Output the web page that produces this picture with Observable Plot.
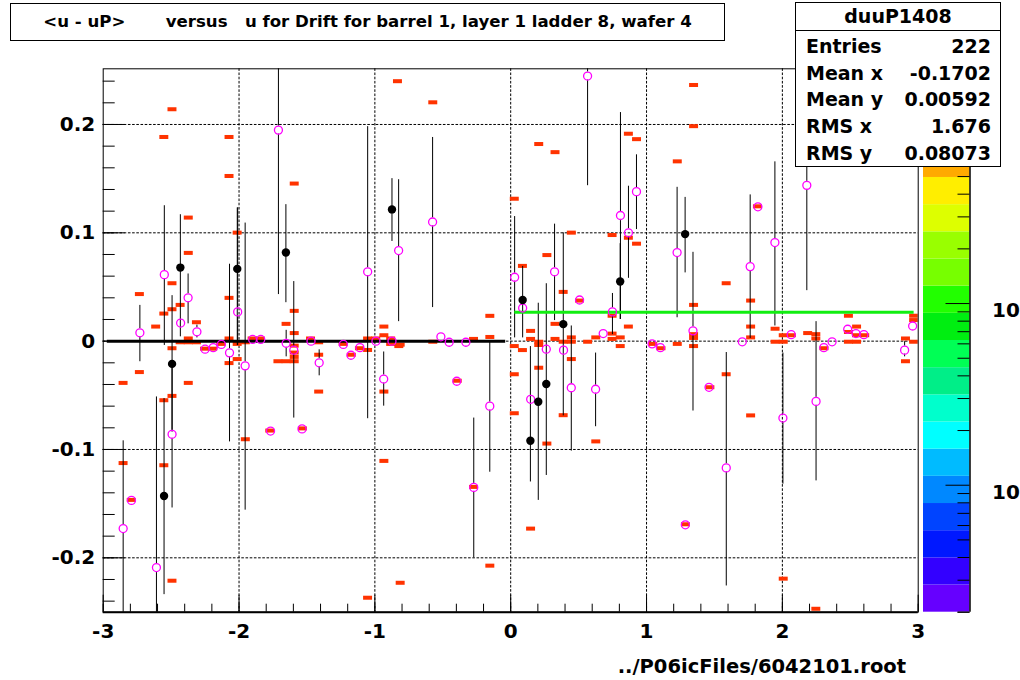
<!DOCTYPE html>
<html>
<head>
<meta charset="utf-8">
<script src="https://cdn.jsdelivr.net/npm/d3@7"></script>
<script src="https://cdn.jsdelivr.net/npm/@observablehq/plot@0.6"></script>
<style>
  html, body { margin: 0; padding: 0; background: #fff; overflow: hidden; }
  #wrap { position: relative; width: 1020px; height: 680px; overflow: hidden; font-family: "DejaVu Sans", sans-serif; font-weight: bold; }
  #main { position: absolute; left: 0; top: 0; width: 1020px; height: 680px; }
  #pal { position: absolute; left: 923px; top: 0; width: 100px; height: 680px; }
  #main svg, #pal svg { max-width: none !important; }
  #title { position: absolute; left: 10px; top: 3px; width: 713px; height: 36px; border: 1px solid #000; background: #fff;
           font-size: 16.6px; line-height: 36px; text-align: center; white-space: pre; }
  #stats { position: absolute; left: 795px; top: 2px; width: 204px; height: 163px; border: 1px solid #000; background: #fff; font-size: 19px; }
  #stats .hd { height: 27px; line-height: 27px; text-align: center; border-bottom: 1px solid #000; }
  #stats .rows { padding-top: 2px; }
  #stats .row { display: flex; justify-content: space-between; height: 26.7px; line-height: 26.7px; padding: 0 9px 0 10px; }
  #footer { position: absolute; right: 114px; top: 655px; font-size: 19.5px; line-height: 24px; white-space: pre; }
</style>
</head>
<body>
<div id="wrap">
  <div id="main"></div>
  <div id="pal"></div>
  <div id="title"></div>
  <div id="stats"></div>
  <div id="footer"></div>
</div>
<script>
// ---------- texts ----------
const titleText = "<u - uP>       versus   u for Drift for barrel 1, layer 1 ladder 8, wafer 4";
const footerText = "../P06icFiles/6042101.root";
const statsName = "duuP1408";
const statsLabels = ["Entries", "Mean x", "Mean y", "RMS x", "RMS y"];
const statsValues = ["222", "-0.1702", "0.00592", "1.676", "0.08073"];

// ---------- axes ----------
const xTicks = [-3, -2, -1, 0, 1, 2, 3];
const xTickLabels = ["-3", "-2", "-1", "0", "1", "2", "3"];
const yTicks = [-0.2, -0.1, 0, 0.1, 0.2];
const yTickLabels = ["-0.2", "-0.1", "0", "0.1", "0.2"];
const xGrid = [-2, -1, 0, 1, 2];
const yGrid = [-0.2, -0.1, 0, 0.1, 0.2];
const xDomain = [-3, 3];
const yDomain = [-0.2502, 0.2514];

// ---------- 2D histogram cells [u, u-uP] ----------
const cells = [
[-2.49,0.2136],[-2.55,0.188],[-2.07,0.188],[-2.07,0.152],[-1.59,0.145],[-0.83,0.2395],
[-2.37,0.1136],[-2.37,0.081],[-2.01,0.0997],[-2.49,0.053],[-2.73,0.043],[-2.43,0.033],
[-2.49,0.029],[-2.55,0.025],[-2.61,0.013],[-2.07,0.0395],[-2.31,0.017],[-1.65,0.0155],
[-1.59,0.0275],[-1.59,0.007],[-0.93,0.013],[-0.93,0.005],
[-2.37,0.002],[-2.07,0.002],[-1.90,0.002],[-1.84,0.002],[-1.47,0.002],[-1.05,0.002],[-0.99,0.002],[-0.88,0.002],
[-2.37,-0.0015],[-2.43,-0.0015],[-2.49,-0.007],[-2.31,-0.0015],[-2.25,-0.0074],[-2.19,-0.0074],[-2.13,-0.003],[-2.01,-0.003],[-1.95,-0.0015],
[-2.07,-0.0207],[-2.01,-0.017],[-2.73,-0.029],[-2.85,-0.039],[-2.37,-0.039],[-2.55,-0.055],[-2.49,-0.051],[-1.95,-0.091],[-2.85,-0.113],[-2.55,-0.115],[-2.79,-0.147],[-2.49,-0.2216],
[-1.77,-0.083],[-1.53,-0.081],[-1.71,-0.019],[-1.65,-0.019],[-1.59,-0.019],[-1.05,-0.2373],[-0.93,-0.047],[-0.93,-0.111],[-1.05,-0.0086],[-0.88,-0.003],[-0.82,-0.005],
[-1.23,-0.003],[-1.17,-0.013],[-1.11,-0.007],[-1.41,-0.013],[-1.41,-0.047],[-1.41,-0.0015],[-1.59,-0.0046],[-1.59,-0.011],[-1.59,-0.015],
[-0.57,0.220],[0.21,0.1815],[0.33,0.174],[0.03,0.131],[0.87,0.191],[0.93,0.186],[0.45,0.0997],[0.75,0.0975],[0.87,0.095],[0.93,0.0895],[0.27,0.079],[0.09,0.069],[0.39,0.045],[0.51,0.037],[-0.15,0.0229],[-0.15,0.0034],[0.75,0.023],[0.87,0.013],[0.33,0.0155],[0.15,0.009],[0.75,0.0065],[0.45,0.003],[0.63,0.003],[0.81,0.003],[0.15,0.0016],[0.33,0.0016],
[-0.81,-0.0037],[-0.57,-0.001],[-0.27,0.0016],[-0.39,-0.037],[-0.27,-0.135],[-0.15,-0.2077],[-0.81,-0.2235],[0.03,-0.005],[0.03,-0.031],[0.03,-0.067],[0.09,-0.0087],[0.21,-0.001],[0.21,-0.004],[0.21,-0.025],[0.15,-0.1735],[0.27,-0.095],[0.39,-0.001],[0.39,-0.0688],[0.45,-0.001],[0.45,-0.017],[0.57,-0.001],[0.63,-0.093],[0.75,0.0016],[0.81,-0.005],
[1.35,0.236],[1.35,0.198],[1.23,0.1655],[1.59,0.053],[1.35,0.033],[1.77,0.037],[1.82,0.124],[1.77,0.013],[1.77,0.003],[1.95,0.011],[2.49,0.023],[2.55,0.013],[2.97,0.023],[2.97,0.019],[1.35,0.006],[1.35,0.0025],[2.01,0.005],[2.07,0.005],[2.19,0.007],[2.25,0.006],[2.25,0.002],[2.61,0.005],[2.91,0.002],
[1.05,-0.003],[1.11,-0.007],[1.23,-0.003],[1.35,-0.005],[1.59,-0.031],[1.47,-0.043],[1.77,-0.069],[1.95,-0.001],[2.01,-0.001],[2.31,-0.007],[2.49,0.008],[2.49,-0.001],[2.55,-0.001],[2.55,0.005],[2.97,-0.001],[2.91,-0.019],[1.29,-0.1695],[2.01,-0.2197],[2.25,-0.2475]
];
const binW = 0.066, binH = 0.0037;

// ---------- profile points [u, mean, low, high] ----------
const pinkProfile = [
[-2.853,-0.173,-0.26,-0.092],[-2.792,-0.147],[-2.73,0.0077,-0.019,0.033],[-2.608,-0.209,-0.26,-0.0515],
[-2.55,0.0614,-0.004,0.125],[-2.493,-0.086,-0.154,-0.02],[-2.43,0.0167],[-2.375,0.040,0.016,0.062],
[-2.31,0.0086,0.003,0.0148],[-2.25,-0.0074],[-2.19,-0.006],[-2.13,-0.003],[-2.07,-0.0108,-0.093,0.071],
[-2.01,0.027,-0.004,0.123],[-1.955,-0.0228,-0.156,0.109],[-1.90,0.0016],[-1.84,0.0016],[-1.768,-0.083],
[-1.71,0.1948,0.043,0.26],[-1.653,-0.002,-0.0145,0.010],[-1.597,-0.0083,-0.071,0.055],[-1.536,-0.081],
[-1.47,0.0],[-1.41,-0.020,-0.032,-0.008],[-1.232,-0.003],[-1.176,-0.013],[-1.11,-0.006],
[-1.053,0.064,-0.0716,0.198],[-0.992,0.0],[-0.935,-0.035,-0.060,-0.010],[-0.874,0.0],
[-0.825,0.0836,0.018,0.149],[-0.575,0.110,0.031,0.188],[-0.514,0.004],[-0.453,-0.001],[-0.397,-0.037],
[-0.33,-0.001],[-0.272,-0.135,-0.200,-0.071],[-0.154,-0.060,-0.121,-0.001],[0.029,0.059,0.003,0.115],
[0.088,0.0306],[0.147,-0.0537],[0.262,-0.0074],[0.323,0.064,0.019,0.108],[0.389,-0.0083],
[0.446,-0.043,-0.1015,0.014],[0.507,0.038],[0.566,0.2447,0.1435,0.26],[0.625,-0.0444,-0.079,-0.011],
[0.681,0.007],[0.749,0.027,0.006,0.044],[0.808,0.116,0.020,0.211],[0.867,0.100,0.058,0.143],
[0.926,0.138,0.103,0.172],[1.041,-0.0025],[1.102,-0.006],[1.225,0.0818,0.0216,0.142],[1.286,-0.1695],
[1.342,0.0095,-0.0645,0.082],[1.46,-0.0426],[1.587,-0.117,-0.226,-0.0105],[1.705,-0.0006],
[1.763,0.0688,0.0025,0.135],[1.82,0.124],[1.945,0.091,0.014,0.1655],[2.004,-0.071,-0.132,-0.011],
[2.065,0.006],[2.18,0.1438,0.0466,0.18],[2.248,-0.0556,-0.129,0.018],[2.305,-0.006],[2.366,-0.0006],
[2.481,0.011],[2.542,0.007],[2.60,0.006],[2.90,-0.0083,-0.0145,-0.0005],[2.959,0.014]
];
const blackProfile = [
[-2.552,-0.143,-0.234,-0.053],[-2.493,-0.021,-0.084,0.042],[-2.432,0.0679,0.004,0.1167],
[-2.013,0.0667,-0.004,0.123],[-1.655,0.0818,0.0355,0.126],[-0.874,0.1216,0.092,0.15],
[0.088,0.038,0.003,0.069],[0.145,-0.092,-0.130,-0.005],[0.203,-0.056,-0.147,0.035],
[0.262,-0.0395,-0.124,0.053],[0.387,0.0157,-0.069,0.1],[0.806,0.055,0.020,0.09],[1.284,0.0988,0.063,0.1327]
];

// ---------- fit lines ----------
const fitLines = [
  {x1: -2.97, x2: -0.037, y: 0, color: "#000000"},
  {x1: 0.03, x2: 2.97, y: 0.0266, color: "#11ee11"}
];

// ---------- colour palette (bottom -> top) ----------
const paletteColors = ["#6600ff","#3300ff","#0018ff","#0044ff","#0088ff","#00bbff","#00ffff","#00ffcc","#00ee88","#00ff55",
                       "#00ee11","#22ff00","#77ff00","#99ff00","#ddff00","#ffee00","#ffaa00","#ff6600","#ff3300","#ff0000"];
const zDomain = [0.02, 19.6];
const zMajor = [0.1, 1, 10];
const zMinor = [0.02,0.03,0.04,0.05,0.06,0.07,0.08,0.09,0.2,0.3,0.4,0.5,0.6,0.7,0.8,0.9,2,3,4,5,6,7,8,9];
const zLabels = [{v: 0.1, t: "10\u207B\u00B9"}, {v: 1, t: "10\u2070"}];

// ---------- layout ----------
const W = 1020, H = 680;
const mL = 102.7, mR = 102.3, mT = 68.3, mB = 68.3;
const frameW = W - mL - mR, frameH = H - mT - mB;

const lo = d => d.length > 2 ? d[2] : d[1];
const hi = d => d.length > 3 ? d[3] : d[1];
const upper = arr => arr.filter(d => hi(d) - d[1] > 0.004);
const lower = arr => arr.filter(d => d[1] - lo(d) > 0.004);

const main = Plot.plot({
  width: W, height: H,
  marginLeft: mL, marginRight: mR, marginTop: mT, marginBottom: mB,
  x: {domain: xDomain, label: null},
  y: {domain: yDomain, label: null},
  style: {fontFamily: "DejaVu Sans", fontWeight: "bold", background: "transparent", overflow: "visible", maxWidth: "none"},
  marks: [
    Plot.ruleX(xGrid, {stroke: "#000", strokeWidth: 1, strokeDasharray: "2.6,1.6"}),
    Plot.ruleY(yGrid, {stroke: "#000", strokeWidth: 1, strokeDasharray: "2.6,1.6"}),
    Plot.rect(cells, {x1: d => d[0] - binW / 2, x2: d => d[0] + binW / 2, y1: d => d[1] - binH / 2, y2: d => d[1] + binH / 2, fill: "#ff3300", clip: true}),
    // error bars
    Plot.ruleX(upper(pinkProfile), {x: d => d[0], y1: hi, y2: d => d[1], insetBottom: 4, stroke: "#000", strokeWidth: 1, clip: true}),
    Plot.ruleX(lower(pinkProfile), {x: d => d[0], y1: d => d[1], y2: lo, insetTop: 4, stroke: "#000", strokeWidth: 1, clip: true}),
    Plot.ruleX(blackProfile, {x: d => d[0], y1: hi, y2: lo, stroke: "#000", strokeWidth: 1, clip: true}),
    // fit lines
    Plot.ruleY(fitLines, {x1: "x1", x2: "x2", y: "y", stroke: "color", strokeWidth: 3}),
    // markers
    Plot.dot(pinkProfile, {x: d => d[0], y: d => d[1], r: 4, stroke: "#ff00ff", strokeWidth: 1.3, fill: "none", clip: true}),
    Plot.dot(blackProfile, {x: d => d[0], y: d => d[1], r: 4.2, fill: "#000", stroke: "none", clip: true}),
    // frame and inward ticks
    Plot.frame({stroke: "#000", strokeWidth: 1}),
    Plot.ruleY([yDomain[0]], {stroke: "#000", strokeWidth: 2}),
    Plot.ruleX(d3.range(-3, 3.0001, 0.2), {insetTop: frameH - 8, stroke: "#000", strokeWidth: 1}),
    Plot.ruleX(xTicks, {insetTop: frameH - 17, stroke: "#000", strokeWidth: 1}),
    Plot.ruleY(d3.range(-0.24, 0.2501, 0.02), {insetRight: frameW - 12, stroke: "#000", strokeWidth: 1}),
    Plot.ruleY(yTicks, {insetRight: frameW - 22, stroke: "#000", strokeWidth: 1}),
    Plot.axisX(xTicks, {tickSize: 0, tickPadding: 12, fontSize: 20, label: null,
                        tickFormat: d => xTickLabels[xTicks.indexOf(d)]}),
    Plot.axisY(yTicks, {tickSize: 0, tickPadding: 8, fontSize: 20, label: null,
                        tickFormat: d => yTickLabels[yTicks.indexOf(d)]})
  ]
});
document.getElementById("main").appendChild(main);

// palette
const palW = 46.5, palSvgW = 100;
const nBands = paletteColors.length;
const lz0 = Math.log10(zDomain[0]), lz1 = Math.log10(zDomain[1]);
const bands = paletteColors.map((c, i) => ({
  lo: Math.pow(10, lz0 + (lz1 - lz0) * i / nBands),
  hi: Math.pow(10, lz0 + (lz1 - lz0) * (i + 1) / nBands),
  color: c
}));
const pal = Plot.plot({
  width: palSvgW, height: H,
  marginLeft: 0, marginRight: palSvgW - palW, marginTop: mT, marginBottom: mB,
  x: {domain: [0, 1], axis: null},
  y: {type: "log", domain: zDomain, axis: null},
  style: {fontFamily: "DejaVu Sans", fontWeight: "bold", background: "transparent", overflow: "visible", maxWidth: "none"},
  marks: [
    Plot.rect(bands, {x1: 0, x2: 1, y1: "lo", y2: "hi", fill: "color"}),
    Plot.ruleX([1], {stroke: "#000", strokeWidth: 1.5}),
    Plot.ruleY(zMinor, {insetLeft: palW - 12, stroke: "#000", strokeWidth: 1}),
    Plot.ruleY(zMajor.filter(v => v <= zDomain[1]), {insetLeft: palW - 24, stroke: "#000", strokeWidth: 1}),
    Plot.ruleY([zDomain[0]], {insetLeft: palW - 12, stroke: "#000", strokeWidth: 1}),
    Plot.text(zLabels, {x: () => 1, y: "v", text: "t", textAnchor: "start", dx: 22, dy: 7, fontSize: 20, fill: "#000"})
  ]
});
document.getElementById("pal").appendChild(pal);

// HTML overlays
document.getElementById("title").textContent = titleText;
document.getElementById("footer").textContent = footerText;
const st = document.getElementById("stats");
const hd = document.createElement("div"); hd.className = "hd"; hd.textContent = statsName; st.appendChild(hd);
const rows = document.createElement("div"); rows.className = "rows"; st.appendChild(rows);
statsLabels.forEach((l, i) => {
  const r = document.createElement("div"); r.className = "row";
  const a = document.createElement("span"); a.textContent = l;
  const b = document.createElement("span"); b.textContent = statsValues[i];
  r.appendChild(a); r.appendChild(b); rows.appendChild(r);
});
</script>
</body>
</html>
